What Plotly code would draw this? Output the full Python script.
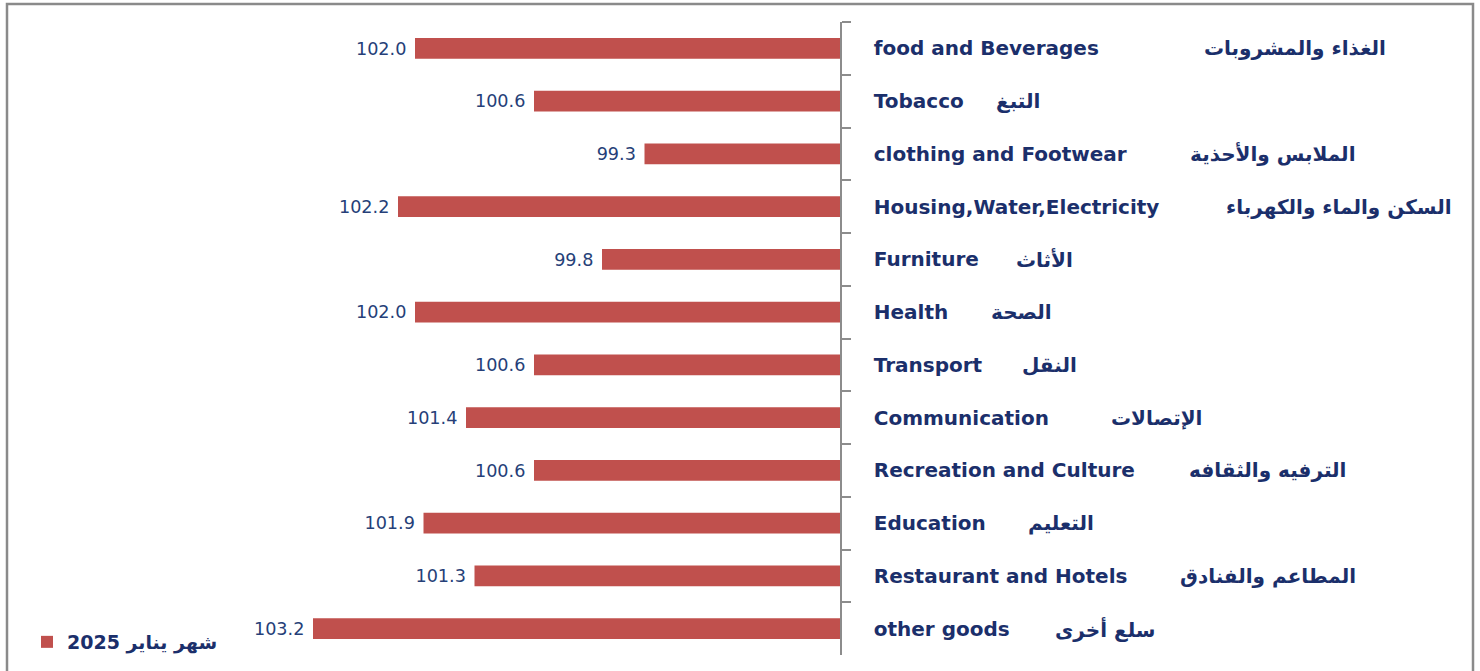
import plotly.graph_objects as go

# ---------------- data ----------------
categories_en = [
    "food and Beverages", "Tobacco", "clothing and Footwear",
    "Housing,Water,Electricity", "Furniture", "Health", "Transport",
    "Communication", "Recreation and Culture", "Education",
    "Restaurant and Hotels", "other goods",
]
categories_ar = [
    "الغذاء والمشروبات", "التبغ", "الملابس والأحذية",
    "السكن والماء والكهرباء", "الأثاث", "الصحة", "النقل",
    "الإتصالات", "الترفيه والثقافه", "التعليم",
    "المطاعم والفنادق", "سلع أخرى",
]
values = [102.0, 100.6, 99.3, 102.2, 99.8, 102.0, 100.6, 101.4, 100.6, 101.9, 101.3, 103.2]
series_name = "شهر يناير 2025"

# ---------------- layout constants ----------------
W, H = 1480, 671
PLOT_L, PLOT_R, PLOT_T, PLOT_B = 10, 840, 22, 655
PX_PER_UNIT = 85.0
X_BASE = 97.0
# horizontal centre (pixels) of each Arabic label
arabic_center_px = [1295, 1018, 1273, 1339, 1044, 1021, 1049, 1156, 1267, 1061, 1268, 1105]

NAVY = "#1b2f6b"
VAL_COLOR = "#263f78"
BAR_COLOR = "#c0504d"
GRID_GRAY = "#8c8c8c"
FONT = "DejaVu Sans"

plot_w = PLOT_R - PLOT_L
plot_h = PLOT_B - PLOT_T


def px_to_paper_x(px):
    return (px - PLOT_L) / plot_w


def py_to_paper_y(py):
    return (PLOT_B - py) / plot_h


fig = go.Figure()
fig.add_trace(go.Bar(
    x=values,
    y=categories_en,
    orientation="h",
    name=series_name,
    marker=dict(color=BAR_COLOR, line=dict(width=0)),
    width=0.39,
    texttemplate="%{x:.1f}\u00a0",
    textposition="outside",
    cliponaxis=False,
    textfont=dict(family=FONT, size=18, color=VAL_COLOR),
    showlegend=True,
))

annotations = []
for i, (ar, cx) in enumerate(zip(categories_ar, arabic_center_px)):
    annotations.append(dict(
        x=px_to_paper_x(cx), xref="paper",
        y=categories_en[i], yref="y",
        text="<b>" + ar + "</b>",
        showarrow=False,
        xanchor="center", yanchor="middle",
        font=dict(family=FONT, size=20, color=NAVY),
    ))

fig.update_layout(
    width=W, height=H,
    margin=dict(l=PLOT_L, r=W - PLOT_R, t=PLOT_T, b=H - PLOT_B),
    paper_bgcolor="white",
    plot_bgcolor="white",
    annotations=annotations,
    showlegend=True,
    legend=dict(
        x=px_to_paper_x(27), y=py_to_paper_y(642),
        xanchor="left", yanchor="middle",
        bgcolor="rgba(0,0,0,0)",
        font=dict(family=FONT, size=19, color=NAVY, weight="bold"),
        itemwidth=30,
    ),
    xaxis=dict(
        range=[X_BASE + plot_w / PX_PER_UNIT, X_BASE],
        visible=False,
        showgrid=False,
        zeroline=False,
    ),
    yaxis=dict(
        type="category",
        categoryorder="array",
        categoryarray=categories_en,
        range=[len(categories_en) - 0.5, -0.5],
        side="right",
        showline=True,
        linecolor=GRID_GRAY,
        linewidth=1.5,
        ticks="outside",
        tickson="boundaries",
        ticklen=9,
        tickwidth=1.5,
        tickcolor=GRID_GRAY,
        ticklabelstandoff=28,
        tickfont=dict(family=FONT, size=20, color=NAVY, weight="bold"),
        showgrid=False,
        zeroline=False,
    ),
    shapes=[dict(
        type="rect", xref="paper", yref="paper",
        x0=px_to_paper_x(7), x1=px_to_paper_x(1473),
        y0=py_to_paper_y(700), y1=py_to_paper_y(4),
        line=dict(color="#8a8a8a", width=2.5),
        fillcolor="rgba(0,0,0,0)",
        layer="below",
    )],
)

fig.write_html("out.html")
